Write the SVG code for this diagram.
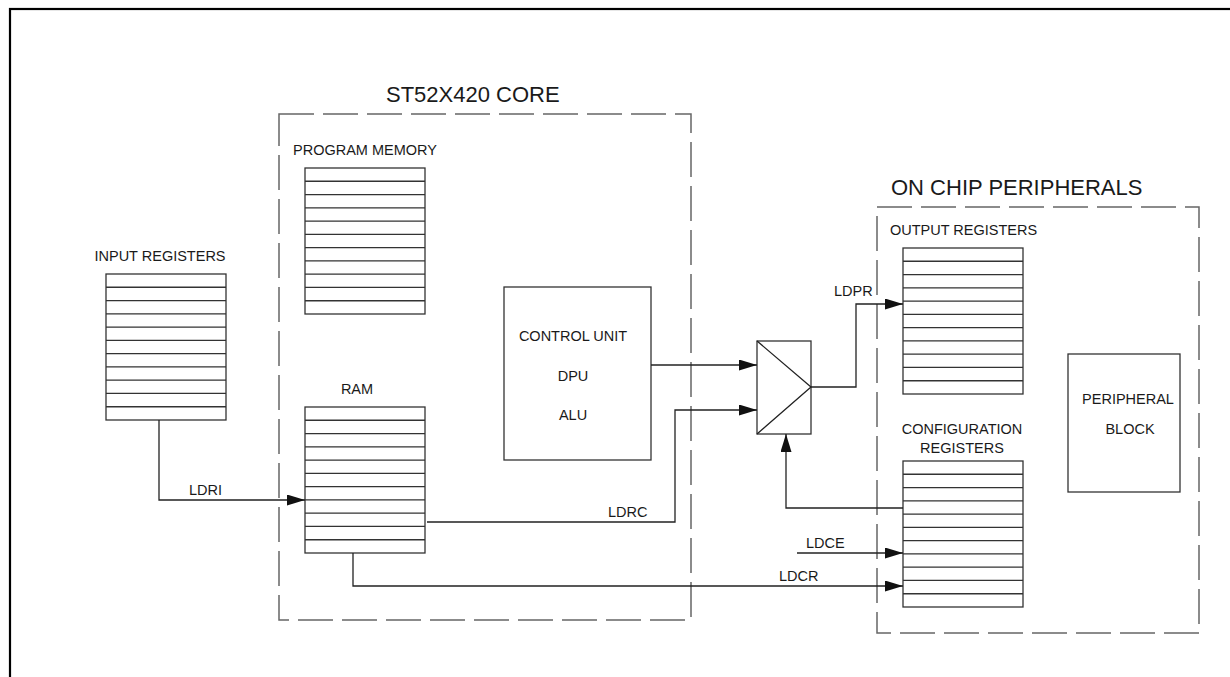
<svg xmlns="http://www.w3.org/2000/svg" xmlns:xlink="http://www.w3.org/1999/xlink" width="1230" height="677" viewBox="0 0 1230 677">
<style>
text{font-family:"Liberation Sans",Arial,sans-serif;fill:#1a1a1a}
.lbl{font-size:14.5px}
.ttl{font-size:22px}
.box{fill:#fff;stroke:#333;stroke-width:1.3}
.dash{fill:none;stroke:#666;stroke-width:1.5;stroke-dasharray:35 9}
.wire{fill:none;stroke:#222;stroke-width:1.3}
</style>
<defs>
<marker id="ah" markerUnits="userSpaceOnUse" markerWidth="18" markerHeight="11" refX="18" refY="5.5" orient="auto">
<path d="M0,0 L18,5.5 L0,11 z" fill="#111"/>
</marker>
<g id="stack">
<rect x="0" y="0" width="120" height="146" class="box"/>
<path d="M0,13.27H120M0,26.55H120M0,39.82H120M0,53.09H120M0,66.36H120M0,79.64H120M0,92.91H120M0,106.18H120M0,119.45H120M0,132.73H120" fill="none" stroke="#333" stroke-width="1.3"/>
</g>
</defs>
<rect x="0" y="0" width="1230" height="677" fill="#fff"/>
<rect id="frame" x="10" y="9" width="1240" height="690" fill="none" stroke="#000" stroke-width="2.2"/>

<g id="core">
<rect x="279" y="114" width="412" height="506" class="dash"/>
<text class="ttl" x="386" y="102">ST52X420 CORE</text>
</g>
<g id="peripherals">
<rect x="877" y="207" width="322" height="426" class="dash"/>
<text class="ttl" x="891" y="195">ON CHIP PERIPHERALS</text>
</g>

<g id="input-registers">
<text class="lbl" x="160" y="261" text-anchor="middle">INPUT REGISTERS</text>
<use xlink:href="#stack" x="106" y="274"/>
</g>
<g id="program-memory">
<text class="lbl" x="293" y="155">PROGRAM MEMORY</text>
<use xlink:href="#stack" x="305" y="168"/>
</g>
<g id="ram">
<text class="lbl" x="357" y="394" text-anchor="middle">RAM</text>
<use xlink:href="#stack" x="305" y="407"/>
</g>
<g id="control-unit">
<rect x="504" y="287" width="147" height="173" class="box"/>
<text class="lbl" x="573" y="341" text-anchor="middle">CONTROL UNIT</text>
<text class="lbl" x="573" y="381" text-anchor="middle">DPU</text>
<text class="lbl" x="573" y="420" text-anchor="middle">ALU</text>
</g>
<g id="mux">
<rect x="757" y="341" width="54" height="93" class="box"/>
<path d="M757,341 L811,387 L757,434" class="wire"/>
</g>
<g id="output-registers">
<text class="lbl" x="890" y="235">OUTPUT REGISTERS</text>
<use xlink:href="#stack" x="903" y="248"/>
</g>
<g id="configuration-registers">
<text class="lbl" x="962" y="434" text-anchor="middle">CONFIGURATION</text>
<text class="lbl" x="962" y="453" text-anchor="middle">REGISTERS</text>
<use xlink:href="#stack" x="903" y="461"/>
</g>
<g id="peripheral-block">
<rect x="1068" y="354" width="112" height="138" class="box"/>
<text class="lbl" x="1128" y="404" text-anchor="middle">PERIPHERAL</text>
<text class="lbl" x="1130" y="434" text-anchor="middle">BLOCK</text>
</g>

<g id="connectors">
<path d="M159,420 V500 H305" class="wire" marker-end="url(#ah)"/>
<path d="M651,365 H757" class="wire" marker-end="url(#ah)"/>
<path d="M427,522 H675 V410 H757" class="wire" marker-end="url(#ah)"/>
<path d="M811,387 H856 V304 H903" class="wire" marker-end="url(#ah)"/>
<path d="M903,508 H786 V434" class="wire" marker-end="url(#ah)"/>
<path d="M797,553 H903" class="wire" marker-end="url(#ah)"/>
<path d="M353,553 V586 H903" class="wire" marker-end="url(#ah)"/>
<text class="lbl" x="189" y="495">LDRI</text>
<text class="lbl" x="608" y="517">LDRC</text>
<text class="lbl" x="834" y="296">LDPR</text>
<text class="lbl" x="806" y="548">LDCE</text>
<text class="lbl" x="779" y="581">LDCR</text>
</g>
</svg>
